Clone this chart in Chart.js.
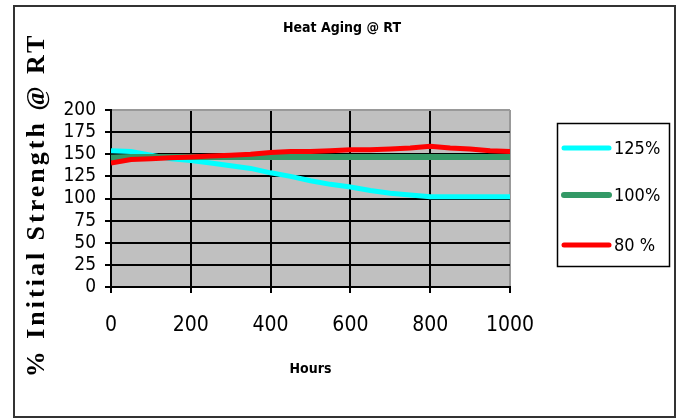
<!DOCTYPE html>
<html>
<head>
<meta charset="utf-8">
<script src="https://cdn.jsdelivr.net/npm/chart.js@4"></script>
<style>
  html, body { margin: 0; padding: 0; background: #fff; }
  #wrap { width: 680px; height: 418px; }
</style>
</head>
<body>
<div id="wrap"><canvas id="agingChart" width="680" height="418"></canvas></div>
<script>
// Данные графика
const hours = [0, 50, 100, 150, 200, 250, 300, 350, 400, 450, 500, 550, 600, 650, 700, 750, 800, 850, 900, 950, 1000];
const s125 = [154, 153, 149, 145, 143, 140, 137, 134, 129, 125, 120, 116, 113, 109, 106, 104, 102, 102, 102, 102, 102];
const s100 = [146, 147, 147, 147, 147, 147, 147, 147, 147, 147, 147, 147, 147, 147, 147, 147, 147, 147, 147, 147, 147];
const s80  = [140, 144, 145, 146, 147, 148, 149, 150, 152, 153, 153, 154, 155, 155, 156, 157, 159, 157, 156, 154, 153];
const seriesLabels = ['125%', '100%', '80 %'];
const xTicks = [0, 200, 400, 600, 800, 1000];
const yTicks = [0, 25, 50, 75, 100, 125, 150, 175, 200];
const chartTitle = 'Heat Aging @ RT';
const yTitle = '% Initial Strength @ RT';

const narrow = "'DejaVu Sans', sans-serif";

function toPoints(values) {
    return values.map((v, i) => ({ x: hours[i], y: v }));
}

// Фон области построения, рамка, заголовки и легенда
const decor = {
    id: 'decor',
    beforeDraw(chart) {
        const { ctx, chartArea: a } = chart;
        ctx.save();
        ctx.fillStyle = '#fff';
        ctx.fillRect(0, 0, chart.width, chart.height);
        ctx.fillStyle = '#c0c0c0';
        ctx.fillRect(a.left, a.top, a.right - a.left, a.bottom - a.top);
        ctx.restore();
    },
    afterDraw(chart) {
        const { ctx } = chart;
        ctx.save();
        // внешняя рамка
        ctx.strokeStyle = '#333';
        ctx.lineWidth = 2;
        ctx.strokeRect(14, 6, 661, 411);

        // заголовок
        ctx.fillStyle = '#000';
        ctx.font = "bold condensed 14px " + narrow;
        ctx.textAlign = 'center';
        ctx.textBaseline = 'middle';
        ctx.fillText(chartTitle, 342, 28);

        // подпись оси Y
        ctx.save();
        ctx.translate(37, 205);
        ctx.rotate(-Math.PI / 2);
        ctx.font = "bold 26px 'Liberation Serif', 'DejaVu Serif', serif";
        ctx.letterSpacing = '3px';
        ctx.fillText(yTitle, 0, 0);
        ctx.restore();

        // легенда
        ctx.textAlign = 'left';
        ctx.strokeStyle = '#000';
        ctx.lineWidth = 1.5;
        ctx.strokeRect(557.5, 123.5, 112, 143);
        const rows = [148, 195, 245];
        chart.data.datasets.forEach((ds, i) => {
            ctx.strokeStyle = ds.borderColor;
            ctx.lineWidth = ds.borderWidth;
            ctx.lineCap = 'round';
            ctx.beginPath();
            ctx.moveTo(564, rows[i]);
            ctx.lineTo(609, rows[i]);
            ctx.stroke();
            ctx.font = "condensed 18px " + narrow;
            ctx.fillText(ds.label, 614, rows[i] + 1);
        });
        ctx.restore();
    }
};

new Chart(document.getElementById('agingChart'), {
    type: 'line',
    data: {
        datasets: [
            { label: seriesLabels[0], data: toPoints(s125), borderColor: '#00ffff', borderWidth: 5, order: 3 },
            { label: seriesLabels[1], data: toPoints(s100), borderColor: '#339966', borderWidth: 6, order: 2 },
            { label: seriesLabels[2], data: toPoints(s80),  borderColor: '#ff0000', borderWidth: 5, order: 1 }
        ]
    },
    options: {
        responsive: false,
        animation: false,
        layout: { padding: { left: 0, right: 170, top: 110, bottom: 0 } },
        elements: { point: { radius: 0 }, line: { tension: 0 } },
        plugins: {
            legend: { display: false },
            tooltip: { enabled: false },
            title: { display: false }
        },
        scales: {
            x: {
                type: 'linear',
                min: 0,
                max: 1000,
                afterFit(scale) { scale.height = 131; },
                afterBuildTicks(scale) { scale.ticks = xTicks.map(v => ({ value: v })); },
                ticks: {
                    color: '#000', font: { family: narrow, size: 21, weight: 'condensed' },
                    padding: 20, maxRotation: 0, autoSkip: false,
                    callback: v => String(v)
                },
                grid: {
                    color: c => (c.tick && c.tick.value === 1000 ? '#999' : '#000'),
                    lineWidth: 2,
                    tickLength: 6,
                    tickColor: '#000'
                },
                border: { color: '#000', width: 2 },
                title: {
                    display: true,
                    text: 'Hours',
                    color: '#000',
                    font: { family: narrow, size: 14, weight: 'bold condensed' },
                    padding: { top: 0, bottom: 40 }
                }
            },
            y: {
                min: 0,
                max: 200,
                afterFit(scale) { scale.width = 111; },
                afterBuildTicks(scale) { scale.ticks = yTicks.map(v => ({ value: v })); },
                ticks: {
                    color: '#000', font: { family: narrow, size: 19, weight: 'condensed' },
                    padding: 9, autoSkip: false,
                    callback: v => String(v)
                },
                grid: {
                    color: c => (c.tick && c.tick.value === 200 ? '#999' : '#000'),
                    lineWidth: 2,
                    tickLength: 6,
                    tickColor: '#000'
                },
                border: { color: '#000', width: 2 },
                title: { display: false }
            }
        }
    },
    plugins: [decor]
});
</script>
</body>
</html>
